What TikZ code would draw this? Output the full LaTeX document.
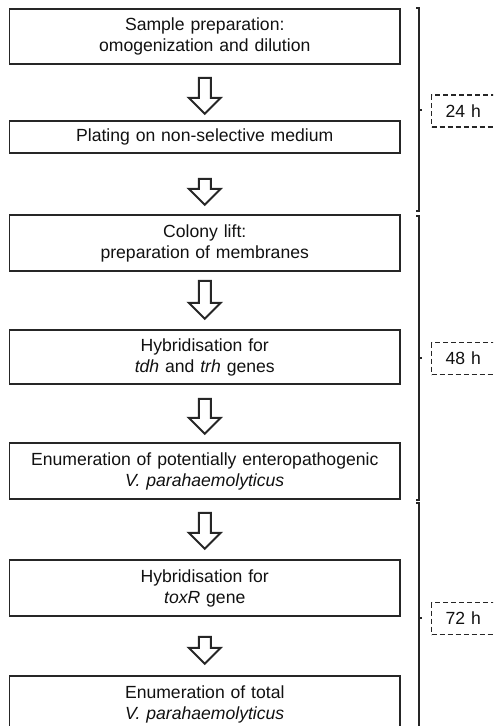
\documentclass[tikz,border=0pt]{standalone}
\usepackage{fontspec}
\setmainfont{Liberation Sans}
\usetikzlibrary{calc}
\definecolor{ln}{HTML}{262626}
\definecolor{tx}{HTML}{111111}
\begin{document}
\begin{tikzpicture}[x=1pt,y=-1pt,
  stepbox/.style={draw=ln,line width=1.6pt,minimum width=390.5pt,text width=385pt,
    align=center,inner sep=0pt,font=\fontsize{17.6}{21}\selectfont,text=tx},
  blockarrow/.style={draw=ln,line width=2pt,fill=white,line join=miter},
  brk/.style={draw=ln,line width=1.4pt},
  timebox/.style={draw=ln,line width=1.3pt,dash pattern=on 5pt off 3pt,anchor=west,
    minimum height=32pt,text width=80pt,align=left,inner xsep=14pt,inner ysep=0pt,
    font=\fontsize{17.6}{21}\selectfont,text=tx}]
\useasboundingbox (0,0) rectangle (493,726);
\clip (0,0) rectangle (493,726);
% boxes
\node[stepbox,minimum height=55pt] (b1) at (204.75,36.5) {Sample preparation:\\omogenization and dilution};
\node[stepbox,minimum height=32pt] (b2) at (204.75,137) {Plating on non-selective medium};
\node[stepbox,minimum height=56pt] (b3) at (204.75,243) {Colony lift:\\preparation of membranes};
\node[stepbox,minimum height=54pt] (b4) at (204.75,357) {Hybridisation for\\\textit{tdh} and \textit{trh} genes};
\node[stepbox,minimum height=56pt] (b5) at (204.75,471) {Enumeration of potentially enteropathogenic\\\textit{V. parahaemolyticus}};
\node[stepbox,minimum height=56pt] (b6) at (204.75,588) {Hybridisation for\\\textit{toxR} gene};
\node[stepbox,minimum height=56pt] (b7) at (204.75,704) {Enumeration of total\\\textit{V. parahaemolyticus}};
% block arrows: top point, length
\newcommand{\blockarr}[2]{%
  \draw[blockarrow] ($#1+(-6,0)$) -- ($#1+(6,0)$) -- ($#1+(6,#2-16)$) -- ($#1+(16,#2-16)$)
    -- ($#1+(0,#2)$) -- ($#1+(-16,#2-16)$) -- ($#1+(-6,#2-16)$) -- cycle;}
\blockarr{(b1.south)+(0,13)}{36}
\blockarr{(b2.south)+(0,25)}{26}
\blockarr{(b3.south)+(0,9)}{38}
\blockarr{(b4.south)+(0,14)}{35}
\blockarr{(b5.south)+(0,13)}{36}
\blockarr{(b6.south)+(0,20)}{27}
% brackets
\coordinate (k1a) at (419,8);  \coordinate (k1b) at (419,211);
\coordinate (k2a) at (419,216); \coordinate (k2b) at (419,500);
\coordinate (k3a) at (419,503); \coordinate (k3b) at (419,735);
\draw[brk] ($(k1a)+(-3,0)$) -- (k1a) -- (k1b) -- ($(k1b)+(-3,0)$);
\draw[brk] ($(k2a)+(-3,0)$) -- (k2a) -- (k2b) -- ($(k2b)+(-3,0)$);
\draw[brk] ($(k3a)+(-3,0)$) -- (k3a) -- (k3b);
\draw[brk] (419,110) -- (422,110);
\draw[brk] (419,358) -- (422,358);
\draw[brk] (419,618) -- (422,618);
% time labels
\node[timebox] (t24) at (431,111) {24 h};
\node[timebox] (t48) at (431,358.5) {48 h};
\node[timebox] (t72) at (431,618.5) {72 h};
\end{tikzpicture}
\end{document}
